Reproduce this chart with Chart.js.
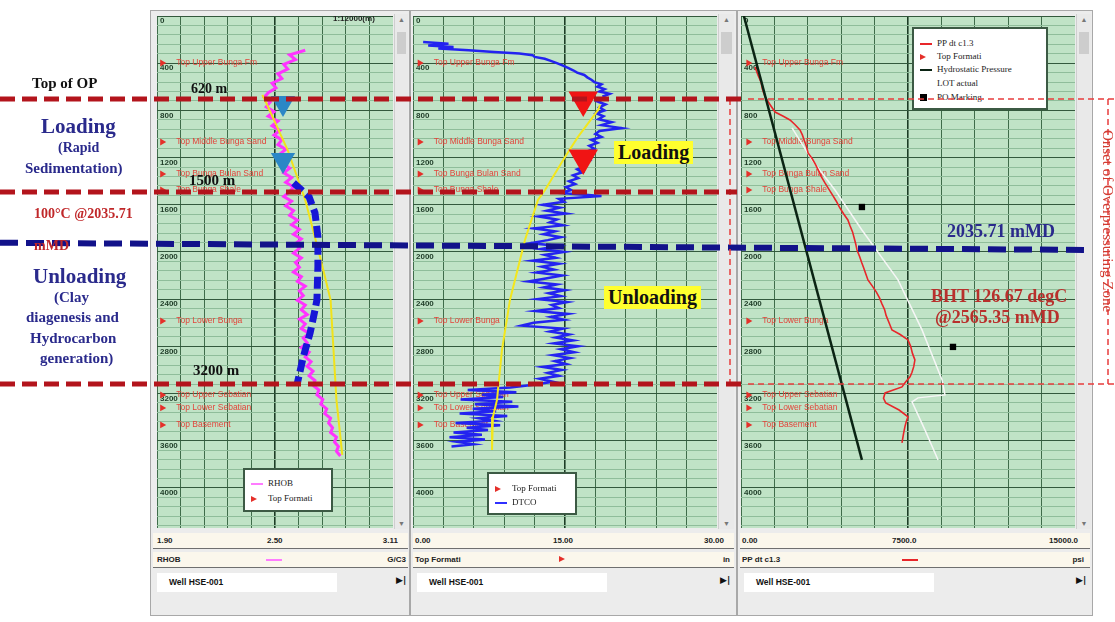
<!DOCTYPE html>
<html lang="en">
<head>
<meta charset="UTF-8">
<title>Well HSE-001 - Loading / Unloading</title>
<script src="https://cdn.jsdelivr.net/npm/chart.js"></script>
<style>
  body { margin:0; width:1115px; height:622px; overflow:hidden; background:#fff; font-family:"Liberation Sans", Arial, sans-serif; }
  #page { position:relative; width:1115px; height:622px; }
  .frame { position:absolute; top:10px; height:606px; background:#ececec; border:1px solid #a8a8a8; box-sizing:border-box; }
  canvas.trk { position:absolute; top:16px; }
  .scroll { position:absolute; top:14px; height:515px; background:#e9e9e9; border-left:1px solid #cfcfcf; box-sizing:border-box; }
  .scroll .thumb { position:absolute; left:2px; right:2px; top:18px; height:22px; background:#cdcdcd; }
  .scroll .up, .scroll .dn { position:absolute; left:0; right:0; text-align:center; font-size:7px; color:#777; }
  .scroll .up { top:2px; } .scroll .dn { bottom:2px; }
  .row { position:absolute; height:16px; background:#fbf7ec; border-bottom:1px solid #6f6f6f; box-sizing:border-box; font:bold 8px "Liberation Sans", Arial; color:#222; }
  .row span { position:absolute; top:3px; }
  .well { position:absolute; height:19px; background:#fff; font:bold 8.5px "Liberation Sans", Arial; color:#111; }
  .end { position:absolute; font:bold 9px "DejaVu Sans"; color:#111; }
  .legend { position:absolute; background:#fff; border:2px solid #3c5a44; box-sizing:border-box; font:9px "Liberation Serif", serif; color:#222; }
  .legend div { position:absolute; left:6px; white-space:nowrap; }
  .legend i { display:inline-block; width:12px; height:1.5px; vertical-align:middle; margin-right:5px; }
  .legend b.tri { display:inline-block; width:0; height:0; border-top:3.5px solid transparent; border-bottom:3.5px solid transparent; border-left:6px solid #e5302a; vertical-align:middle; margin-right:11px; }
  .legend b.sq { display:inline-block; width:7px; height:7px; background:#000; vertical-align:middle; margin-right:10px; }
  .ann { position:absolute; white-space:nowrap; font-family:"Liberation Serif", "Times New Roman", serif; font-weight:bold; }
  .navy { color:#2a2a8c; }
  .hl { background:#ffff2e; color:#111; padding:0 4px; }
  #overlay { position:absolute; left:0; top:0; pointer-events:none; }
</style>
</head>
<body>
<div id="page">
  <div class="frame" style="left:150px;width:260px"></div>
  <div class="frame" style="left:410px;width:327px"></div>
  <div class="frame" style="left:737px;width:356px"></div>

  <canvas id="trk1" class="trk" width="236" height="512" style="left:157px"></canvas>
  <canvas id="trk2" class="trk" width="304" height="512" style="left:413px"></canvas>
  <canvas id="trk3" class="trk" width="334" height="512" style="left:741px"></canvas>

  <div class="scroll" style="left:394px;width:14px"><div class="up">▲</div><div class="thumb"></div><div class="dn">▼</div></div>
  <div class="scroll" style="left:718px;width:16px"><div class="up">▲</div><div class="thumb"></div><div class="dn">▼</div></div>
  <div class="scroll" style="left:1076px;width:15px"><div class="up">▲</div><div class="thumb"></div><div class="dn">▼</div></div>

  <!-- scale rows -->
  <div class="row" style="left:153px;width:255px;top:533px"><span style="left:4px">1.90</span><span style="left:114px">2.50</span><span style="right:10px">3.11</span></div>
  <div class="row" style="left:153px;width:255px;top:552px"><span style="left:4px">RHOB</span><span style="left:113px;top:7px;width:16px;height:1.5px;background:#ff7cff"></span><span style="right:2px">G/C3</span></div>
  <div class="well" style="left:157px;width:180px;top:573px"><span style="position:absolute;left:12px;top:4px">Well HSE-001</span></div>
  <div class="end" style="left:396px;top:575px">▶|</div>

  <div class="row" style="left:413px;width:321px;top:533px"><span style="left:2px">0.00</span><span style="left:140px">15.00</span><span style="right:10px">30.00</span></div>
  <div class="row" style="left:413px;width:321px;top:552px"><span style="left:2px">Top Formati</span><span style="left:146px;top:4px;width:0;height:0;border-top:3px solid transparent;border-bottom:3px solid transparent;border-left:6px solid #e5302a"></span><span style="right:4px">in</span></div>
  <div class="well" style="left:417px;width:190px;top:573px"><span style="position:absolute;left:12px;top:4px">Well HSE-001</span></div>
  <div class="end" style="left:720px;top:575px">▶|</div>

  <div class="row" style="left:740px;width:350px;top:533px"><span style="left:2px">0.00</span><span style="left:152px">7500.0</span><span style="right:12px">15000.0</span></div>
  <div class="row" style="left:740px;width:350px;top:552px"><span style="left:2px">PP dt c1.3</span><span style="left:162px;top:7px;width:16px;height:1.5px;background:#e8262a"></span><span style="right:6px">psi</span></div>
  <div class="well" style="left:744px;width:190px;top:573px"><span style="position:absolute;left:12px;top:4px">Well HSE-001</span></div>
  <div class="end" style="left:1076px;top:575px">▶|</div>

  <div style="position:absolute;left:333px;top:14px;font:bold 8px 'Liberation Sans';color:#222">1:12000(m)</div>

  <!-- legends -->
  <div class="legend" style="left:243px;top:468px;width:90px;height:44px">
    <div style="top:8px"><i style="background:#ff7cff"></i>RHOB</div>
    <div style="top:23px"><b class="tri"></b>Top Formati</div>
  </div>
  <div class="legend" style="left:487px;top:472px;width:90px;height:43px">
    <div style="top:9px"><b class="tri"></b>Top Formati</div>
    <div style="top:23px"><i style="background:#3030ff"></i>DTCO</div>
  </div>
  <div class="legend" style="left:912px;top:27px;width:136px;height:83px">
    <div style="top:9px"><i style="background:#e8262a"></i>PP dt c1.3</div>
    <div style="top:22px"><b class="tri"></b>Top Formati</div>
    <div style="top:35px"><i style="background:#0b2414;height:2px"></i>Hydrostatic Pressure</div>
    <div style="top:49px"><i style="background:#fff"></i>LOT actual</div>
    <div style="top:63px"><b class="sq"></b>PO Marking</div>
  </div>

  <canvas id="overlay" width="1115" height="622"></canvas>

  <!-- annotations -->
  <div class="ann" style="left:32px;top:75px;font-size:15px;color:#111">Top of OP</div>
  <div class="ann navy" style="left:41px;top:114px;font-size:21px">Loading</div>
  <div class="ann navy" style="left:58px;top:140px;font-size:14px">(Rapid</div>
  <div class="ann navy" style="left:25px;top:160px;font-size:15px">Sedimentation)</div>
  <div class="ann" style="left:34px;top:206px;font-size:14px;color:#c0282a">100°C @2035.71</div>
  <div class="ann" style="left:34px;top:238px;font-size:14px;color:#c0282a">mMD</div>
  <div class="ann navy" style="left:33px;top:264px;font-size:21px">Unloading</div>
  <div class="ann navy" style="left:54px;top:289px;font-size:15px">(Clay</div>
  <div class="ann navy" style="left:26px;top:309px;font-size:15px">diagenesis and</div>
  <div class="ann navy" style="left:30px;top:330px;font-size:15px">Hydrocarbon</div>
  <div class="ann navy" style="left:40px;top:350px;font-size:15px">generation)</div>

  <div class="ann" style="left:191px;top:81px;font-size:14px;color:#111">620 m</div>
  <div class="ann" style="left:189px;top:172px;font-size:15px;color:#111">1500 m</div>
  <div class="ann" style="left:193px;top:362px;font-size:15px;color:#111">3200 m</div>

  <div class="ann hl" style="left:614px;top:141px;font-size:20px">Loading</div>
  <div class="ann hl" style="left:604px;top:286px;font-size:20px">Unloading</div>

  <div class="ann navy" style="left:947px;top:221px;font-size:18px">2035.71 mMD</div>
  <div class="ann" style="left:931px;top:286px;font-size:18px;color:#b8302c">BHT 126.67 degC</div>
  <div class="ann" style="left:935px;top:307px;font-size:18px;color:#b8302c">@2565.35 mMD</div>
  <div class="ann" style="left:1099px;top:130px;font-size:15px;color:#d23a30;font-weight:normal;writing-mode:vertical-rl">Onset of Overpressuring Zone</div>
</div>

<script>
// ---- depth axis (m MD), shared by the three tracks ----
const depthMax = 4340;

// ---- formation tops ----
const topNames = ['Top Upper Bunga Fm', 'Top Middle Bunga Sand', 'Top Bunga Bulan Sand', 'Top Bunga Shale',
                  'Top Lower Bunga', 'Top Upper Sebatian', 'Top Lower Sebatian', 'Top Basement'];
const topDepths = [398, 1068, 1339, 1475, 2585, 3212, 3322, 3466];

// ---- track 1 : RHOB (g/cc) ----
const rhobRange = [1.90, 3.11];
const rhobDepth = [290, 330, 370, 410, 450, 490, 530, 570, 610, 650,
                   690, 730, 770, 810, 850, 890, 930, 970, 1010, 1050,
                   1090, 1130, 1170, 1210, 1250, 1290, 1330, 1370, 1410, 1450,
                   1490, 1530, 1570, 1610, 1650, 1690, 1730, 1770, 1810, 1850,
                   1890, 1930, 1970, 2010, 2050, 2090, 2130, 2170, 2210, 2250,
                   2290, 2330, 2370, 2410, 2450, 2490, 2530, 2570, 2610, 2650,
                   2690, 2730, 2770, 2810, 2850, 2890, 2930, 2970, 3010, 3050,
                   3090, 3130, 3170, 3210, 3250, 3290, 3330, 3370, 3410, 3450,
                   3490, 3530, 3570, 3610, 3650, 3690, 3730];
const rhobValue = [2.66, 2.58, 2.61, 2.55, 2.57, 2.52, 2.54, 2.49, 2.51, 2.47,
                   2.45, 2.48, 2.46, 2.50, 2.47, 2.52, 2.49, 2.53, 2.50, 2.54,
                   2.52, 2.56, 2.53, 2.57, 2.55, 2.58, 2.55, 2.59, 2.56, 2.60,
                   2.58, 2.55, 2.59, 2.56, 2.60, 2.58, 2.62, 2.59, 2.63, 2.60,
                   2.64, 2.61, 2.63, 2.60, 2.64, 2.61, 2.63, 2.60, 2.64, 2.62,
                   2.66, 2.63, 2.65, 2.62, 2.66, 2.64, 2.67, 2.63, 2.66, 2.64,
                   2.68, 2.65, 2.67, 2.64, 2.68, 2.66, 2.69, 2.67, 2.70, 2.68,
                   2.71, 2.70, 2.73, 2.72, 2.75, 2.74, 2.77, 2.76, 2.79, 2.78,
                   2.80, 2.79, 2.82, 2.81, 2.83, 2.82, 2.84];
const rhobTrendDepth = [669, 737, 1136, 1559, 2068, 2407, 3254, 3720];
const rhobTrendValue = [2.44, 2.46, 2.57, 2.66, 2.74, 2.79, 2.82, 2.85];
const rhobUnloadDepth = [1415, 1534, 1669, 1873, 2127, 2407, 2492, 2686, 2890, 3110];
const rhobUnloadValue = [2.60, 2.68, 2.71, 2.725, 2.725, 2.72, 2.71, 2.685, 2.65, 2.62];
const rhobArrowDepth = [737, 1220];
const rhobArrowValue = [2.546, 2.546];

// ---- track 2 : DTCO ----
const dtcoRange = [0, 30];
const dtcoDepth = [220, 235, 250, 262, 275, 290, 305, 318, 332, 347,
                   362, 380, 400, 420, 440, 460, 480, 500, 520, 540,
                   560, 580, 600, 620, 640, 660, 680, 700, 725, 750,
                   775, 800, 825, 850, 875, 900, 925, 950, 975, 1000,
                   1025, 1050, 1075, 1100, 1125, 1150, 1175, 1200, 1225, 1250,
                   1275, 1300, 1325, 1350, 1375, 1400, 1425, 1450, 1475, 1500,
                   1525, 1550, 1575, 1600, 1625, 1650, 1675, 1700, 1725, 1750,
                   1775, 1800, 1825, 1850, 1875, 1900, 1925, 1950, 1975, 2000,
                   2025, 2050, 2075, 2100, 2125, 2150, 2175, 2200, 2225, 2250,
                   2275, 2300, 2325, 2350, 2375, 2400, 2425, 2450, 2475, 2500,
                   2525, 2550, 2575, 2600, 2625, 2650, 2675, 2700, 2725, 2750,
                   2775, 2800, 2825, 2850, 2875, 2900, 2925, 2950, 2975, 3000,
                   3025, 3050, 3075, 3100, 3125, 3150, 3170, 3190, 3210, 3230,
                   3250, 3270, 3290, 3310, 3330, 3350, 3370, 3390, 3410, 3430,
                   3450, 3470, 3490, 3510, 3530, 3550, 3570, 3590, 3610, 3630, 3650];
const dtcoValue = [1.0, 3.5, 1.5, 4.0, 2.5, 5.5, 8.0, 10.5, 11.8, 12.0,
                   13.0, 13.6, 14.2, 14.8, 15.3, 15.8, 16.2, 16.9, 17.2, 17.6,
                   17.9, 18.6, 18.2, 18.9, 18.4, 19.4, 18.8, 18.9, 18.2, 19.0,
                   18.4, 18.9, 18.1, 18.8, 18.3, 19.6, 18.6, 20.6, 18.4, 18.0,
                   18.6, 17.6, 18.2, 17.4, 17.9, 17.1, 17.6, 16.8, 17.4, 16.6,
                   17.0, 16.2, 16.7, 15.8, 16.3, 15.4, 16.0, 15.1, 15.6, 14.6,
                   18.6, 14.4, 14.9, 12.8, 14.5, 13.2, 15.1, 12.4, 14.2, 13.5,
                   14.8, 11.9, 14.0, 12.9, 14.6, 13.3, 11.6, 14.3, 12.6, 14.9,
                   13.0, 14.1, 11.8, 14.4, 12.7, 13.9, 12.2, 14.7, 13.1, 11.4,
                   14.2, 12.9, 15.0, 13.4, 14.6, 12.3, 15.2, 13.7, 14.4, 12.1,
                   15.3, 13.6, 14.9, 11.9, 10.7, 14.8, 13.5, 15.4, 14.1, 15.8,
                   13.9, 16.3, 14.6, 15.9, 13.8, 15.5, 14.0, 15.1, 12.8, 14.7,
                   13.3, 14.4, 12.5, 13.8, 11.9, 9.6, 5.4, 10.2, 6.8, 8.9,
                   4.7, 9.8, 6.1, 10.4, 5.9, 8.2, 4.6, 9.3, 6.5, 7.9,
                   4.2, 8.6, 5.3, 7.4, 4.0, 6.8, 3.6, 7.1, 4.4, 6.0, 3.8];
const dtcoTrendDepth = [754, 797, 1025, 1195, 1475, 1559, 1898, 2407, 2831, 3254, 3398, 3678];
const dtcoTrendValue = [18.45, 18.26, 16.28, 15.0, 13.03, 12.33, 11.05, 9.57, 8.78, 8.29, 7.89, 7.80];
const dtcoArrowDepth = [712, 1203];
const dtcoArrowValue = [16.8, 16.8];

// ---- track 3 : pressure (psi) ----
const psiRange = [0, 15000];
const hydroDepth = [0, 3763];
const hydroValue = [130, 5430];
const ppDepth = [432, 500, 560, 620, 686, 750, 814, 850, 881, 920,
                 966, 1010, 1060, 1110, 1161, 1210, 1260, 1310, 1360, 1415,
                 1470, 1520, 1570, 1620, 1680, 1729, 1780, 1830, 1880, 1930,
                 1983, 2040, 2090, 2140, 2190, 2237, 2290, 2340, 2390, 2440,
                 2490, 2540, 2600, 2661, 2700, 2746, 2800, 2860, 2915, 2970,
                 3020, 3059, 3100, 3144, 3195, 3240, 3280, 3340, 3398, 3440,
                 3483, 3540, 3619];
const ppValue = [630, 760, 900, 960, 1080, 1300, 1530, 1900, 2200, 2420,
                 2650, 2760, 2850, 2950, 3010, 3200, 3350, 3480, 3600, 3770,
                 3950, 4120, 4280, 4420, 4620, 4800, 4900, 5010, 5080, 5150,
                 5210, 5330, 5420, 5520, 5610, 5700, 5900, 6080, 6220, 6330,
                 6450, 6520, 6650, 6780, 7150, 7500, 7620, 7700, 7810, 7760,
                 7680, 7590, 7400, 7230, 6470, 6400, 6500, 7100, 7500, 7420,
                 7360, 7300, 7230];
const lotDepth = [949, 1220, 1475, 1814, 2237, 2661, 3085, 3212, 3237, 3271, 3508, 3763];
const lotValue = [2290, 3190, 4220, 5430, 7050, 8130, 9030, 9160, 7950, 7680, 8260, 8850];
const poDepth = [1619, 2805];
const poValue = [5430, 9520];

// ---- interpretation markers (m MD as drawn) ----
const opMarkDepths = [703, 1492, 3119];     // 620 m, 1500 m, 3200 m
const isoDepths = [1922, 1983];             // 100 degC @ 2035.71 mMD (left end, right end)

const pts = (dep, val) => dep.map((d, i) => ({ x: val[i], y: d }));

const trackBg = {
  id: 'trackBg',
  beforeDraw(chart) {
    const { ctx, chartArea: a } = chart;
    ctx.save();
    ctx.fillStyle = '#c0e3c6';
    ctx.fillRect(a.left, a.top, a.width, a.height);
    ctx.restore();
  }
};

const topLabels = {
  id: 'topLabels',
  beforeDatasetsDraw(chart) {
    chart.data.datasets.forEach((ds, i) => {
      if (!ds.names) return;
      const meta = chart.getDatasetMeta(i);
      const ctx = chart.ctx;
      ctx.save();
      ctx.font = '8.5px "Liberation Sans", Arial';
      ctx.fillStyle = '#e2443a';
      ctx.textBaseline = 'middle';
      meta.data.forEach((p, j) => ctx.fillText(ds.names[j], p.x + 14, p.y));
      ctx.restore();
    });
  }
};

// axes take no room: the plot fills the whole canvas
const noRoom = s => {
  if (s.isHorizontal()) s.height = 0; else s.width = 0;
  s.paddingTop = 0; s.paddingBottom = 0; s.paddingLeft = 0; s.paddingRight = 0;
};

function topsDataset(range) {
  const x = range[0] + (range[1] - range[0]) * 0.022;
  return {
    data: topDepths.map(d => ({ x: x, y: d })),
    names: topNames,
    showLine: false, pointStyle: 'triangle', rotation: 90, pointRadius: 4,
    pointBackgroundColor: '#e5302a', pointBorderWidth: 0, order: 10
  };
}

function track(id, range, datasets) {
  const xGrid = [];
  for (let k = 0; k <= 10; k++) xGrid.push(range[0] + (range[1] - range[0]) * k / 10);
  const yGrid = [];
  for (let d = 0; d <= depthMax; d += 80) yGrid.push(d);
  return new Chart(document.getElementById(id), {
    type: 'line',
    data: { datasets: datasets.concat([topsDataset(range)]) },
    options: {
      responsive: false, animation: false,
      layout: { padding: 0, autoPadding: false },
      elements: { point: { radius: 0 }, line: { tension: 0 } },
      plugins: { legend: { display: false }, tooltip: { enabled: false } },
      scales: {
        x: {
          type: 'linear', min: range[0], max: range[1], position: 'top',
          afterBuildTicks: s => { s.ticks = xGrid.map(v => ({ value: v })); },
          afterFit: noRoom,
          ticks: { display: false },
          grid: { drawTicks: false, color: c => c.index === 5 ? '#1d3d26' : '#3f6c4a', lineWidth: c => c.index === 5 ? 1.6 : 1 },
          border: { display: false }
        },
        y: {
          type: 'linear', reverse: true, min: 0, max: depthMax,
          afterBuildTicks: s => { s.ticks = yGrid.map(v => ({ value: v })); },
          afterFit: noRoom,
          ticks: {
            mirror: true, padding: 3, labelOffset: 5, autoSkip: false,
            callback: v => (v % 400 === 0 ? String(v) : ''),
            font: { size: 8, weight: 'bold', family: '"Liberation Sans", Arial' },
            color: '#213f2a'
          },
          grid: { drawTicks: false, color: c => c.tick.value % 400 === 0 ? '#33593d' : '#8fbd9a', lineWidth: 1 },
          border: { display: false }
        }
      }
    },
    plugins: [trackBg, topLabels]
  });
}

const t1 = track('trk1', rhobRange, [
  { data: pts(rhobArrowDepth, rhobArrowValue), showLine: false, pointStyle: 'triangle', rotation: 180,
    pointRadius: 14, pointBackgroundColor: '#2b87c6', pointBorderWidth: 0, order: 0 },
  { data: pts(rhobUnloadDepth, rhobUnloadValue), borderColor: '#1616d6', borderWidth: 7, borderDash: [12, 5], order: 1 },
  { data: pts(rhobTrendDepth, rhobTrendValue), borderColor: '#f1e21a', borderWidth: 2, order: 2 },
  { data: pts(rhobDepth, rhobValue), borderColor: '#ff33ff', borderWidth: 3, order: 3 }
]);

track('trk2', dtcoRange, [
  { data: pts(dtcoArrowDepth, dtcoArrowValue), showLine: false, pointStyle: 'triangle', rotation: 180,
    pointRadius: 17, pointBackgroundColor: '#f01414', pointBorderWidth: 0, order: 0 },
  { data: pts(dtcoTrendDepth, dtcoTrendValue), borderColor: '#f3e71c', borderWidth: 2, order: 1 },
  { data: pts(dtcoDepth, dtcoValue), borderColor: '#2323f0', borderWidth: 2.5, order: 2 }
]);

track('trk3', psiRange, [
  { data: pts(poDepth, poValue), showLine: false, pointStyle: 'rect', pointRadius: 4.5,
    pointBackgroundColor: '#000', pointBorderWidth: 0, order: 0 },
  { data: pts(hydroDepth, hydroValue), borderColor: '#0b2414', borderWidth: 2.5, order: 1 },
  { data: pts(ppDepth, ppValue), borderColor: '#e8262a', borderWidth: 1.6, order: 2 },
  { data: pts(lotDepth, lotValue), borderColor: '#f6f6f6', borderWidth: 1.5, order: 3 }
]);

// overlay: interpretation lines running across the whole figure, on the same depth scale
const ys = t1.scales.y;
const trackTop = 16;
const ovMin = ys.getValueForPixel(0 - trackTop);
const ovMax = ys.getValueForPixel(622 - trackTop);
const thick = (d, x0, x1) => ({ data: [{ x: x0, y: d }, { x: x1, y: d }], borderColor: '#b3141c', borderWidth: 5, borderDash: [15, 7] });
const thin = (d, x0, x1) => ({ data: [{ x: x0, y: d }, { x: x1, y: d }], borderColor: '#e83c3c', borderWidth: 1.5, borderDash: [6, 4] });
const vert = (x, d0, d1) => ({ data: [{ x: x, y: d0 }, { x: x, y: d1 }], borderColor: '#e83c3c', borderWidth: 1.5, borderDash: [6, 4] });

new Chart(document.getElementById('overlay'), {
  type: 'line',
  data: {
    datasets: [
      thick(opMarkDepths[0], 0, 748), thin(opMarkDepths[0], 748, 1115),
      thick(opMarkDepths[1], 0, 737),
      thick(opMarkDepths[2], 0, 748), thin(opMarkDepths[2], 748, 1115),
      vert(730, opMarkDepths[0], opMarkDepths[2]), vert(1108, opMarkDepths[0], opMarkDepths[2]),
      { data: [{ x: 0, y: isoDepths[0] }, { x: 1090, y: isoDepths[1] }], borderColor: '#12128a', borderWidth: 6, borderDash: [18, 8] }
    ]
  },
  options: {
    responsive: false, animation: false,
    layout: { padding: 0, autoPadding: false },
    elements: { point: { radius: 0 } },
    plugins: { legend: { display: false }, tooltip: { enabled: false } },
    scales: {
      x: { type: 'linear', min: 0, max: 1115, display: false },
      y: { type: 'linear', reverse: true, min: ovMin, max: ovMax, display: false }
    }
  }
});
</script>
</body>
</html>
